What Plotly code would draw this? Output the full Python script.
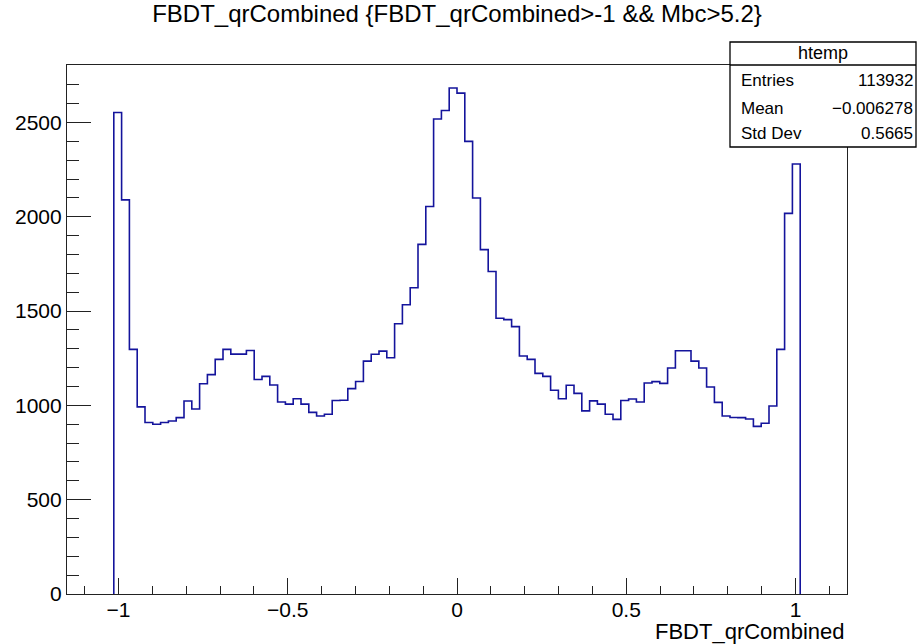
import plotly.graph_objects as go

# ---------------- data ----------------
TITLE = "FBDT_qrCombined {FBDT_qrCombined>-1 && Mbc>5.2}"
X_TITLE = "FBDT_qrCombined"
HIST_NAME = "htemp"
AXIS_XMIN = -1.152
AXIS_XMAX = 1.152
NBINS = 100
FIRST_FILLED_BIN = 6  # bins 0..5 and 94..99 are empty
counts = [
    2553, 2090, 1297, 992, 909, 900, 909, 917, 935, 1023,
    981, 1115, 1163, 1244, 1297, 1272, 1272, 1291, 1137, 1154,
    1108, 1018, 1007, 1035, 1007, 963, 944, 953, 1026, 1027,
    1089, 1127, 1235, 1271, 1288, 1253, 1433, 1534, 1624, 1854,
    2055, 2519, 2564, 2683, 2656, 2400, 2100, 1826, 1710, 1462,
    1455, 1418, 1262, 1244, 1170, 1154, 1080, 1035, 1107, 1064,
    971, 1024, 1007, 953, 926, 1026, 1034, 1018, 1119, 1126,
    1117, 1198, 1290, 1290, 1235, 1198, 1098, 1016, 944, 936,
    935, 928, 889, 905, 997, 1297, 2018, 2280,
]
stats_labels = ["Entries", "Mean", "Std Dev"]
stats_values = ["113932", "\u22120.006278", "0.5665"]
Y_MAX = 2805

# ---------------- geometry ----------------
W, H = 917, 644
ML, MR, MT, MB = 67, 70, 65, 50
PW, PH = W - ML - MR, H - MT - MB


def px(xp):
    return (xp - ML) / PW


def py(yp):
    return (H - MB - yp) / PH


bw = (AXIS_XMAX - AXIS_XMIN) / NBINS
edges = [AXIS_XMIN + bw * (FIRST_FILLED_BIN + i) for i in range(len(counts) + 1)]
xs = [edges[0]] + edges
ys = [0] + counts + [counts[-1]]
# close the outline down to zero at the right end
xs = xs + [edges[-1]]
ys = ys + [0]

LINE_BLUE = "#14149c"
FONT = "Liberation Sans, Arial, Helvetica, sans-serif"

fig = go.Figure()
fig.add_trace(go.Scatter(
    x=xs, y=ys, mode="lines", line=dict(shape="hv", color=LINE_BLUE, width=1.6),
    hoverinfo="skip", showlegend=False,
))

axis_common = dict(
    showgrid=False, zeroline=False, showline=True, mirror=True,
    linecolor="#222222", linewidth=1.2, ticks="inside", tickcolor="#222222",
    tickwidth=1.2, tickfont=dict(family=FONT, size=21, color="black"),
)

fig.update_xaxes(
    range=[AXIS_XMIN, AXIS_XMAX], tick0=0, dtick=0.5, ticklen=16,
    ticklabelstandoff=-3,
    minor=dict(dtick=0.1, ticks="inside", ticklen=8, tickcolor="#222222", tickwidth=1.2),
    **axis_common,
)
fig.update_yaxes(
    range=[0, Y_MAX], tick0=0, dtick=500, ticklen=24,
    minor=dict(dtick=100, ticks="inside", ticklen=12, tickcolor="#222222", tickwidth=1.2),
    **axis_common,
)

# stats box
bx0, bx1, by0, by1, bsep = 730, 916, 42, 147, 65
fig.add_shape(type="rect", xref="paper", yref="paper",
              x0=px(bx0), x1=px(bx1), y0=py(by1), y1=py(by0),
              fillcolor="white", line=dict(color="black", width=1.3), layer="above")
fig.add_shape(type="line", xref="paper", yref="paper",
              x0=px(bx0), x1=px(bx1), y0=py(bsep), y1=py(bsep),
              line=dict(color="black", width=1.3), layer="above")

annotations = [
    dict(text=HIST_NAME, x=px((bx0 + bx1) / 2), y=py((by0 + bsep) / 2),
         xanchor="center", yanchor="middle", font=dict(family=FONT, size=18, color="black")),
    dict(text=X_TITLE, x=1, y=py(631), xanchor="right", yanchor="middle",
         font=dict(family=FONT, size=22, color="black")),
]
row_y = [80.7, 108.3, 133.3]
for lab, val, ry in zip(stats_labels, stats_values, row_y):
    annotations.append(dict(text=lab, x=px(739), y=py(ry), xanchor="left", yanchor="middle",
                            font=dict(family=FONT, size=17, color="black")))
    annotations.append(dict(text=val, x=px(915), y=py(ry), xanchor="right", yanchor="middle",
                            font=dict(family=FONT, size=17, color="black")))
for a in annotations:
    a.update(xref="paper", yref="paper", showarrow=False)

fig.update_layout(
    width=W, height=H,
    margin=dict(l=ML, r=MR, t=MT, b=MB, pad=0),
    paper_bgcolor="white", plot_bgcolor="white",
    title=dict(text=TITLE, x=0.5, xanchor="center", y=1 - 14 / H, yanchor="middle",
               xref="paper", font=dict(family=FONT, size=24, color="black")),
    annotations=annotations,
    showlegend=False,
)

fig.write_html("out.html")
